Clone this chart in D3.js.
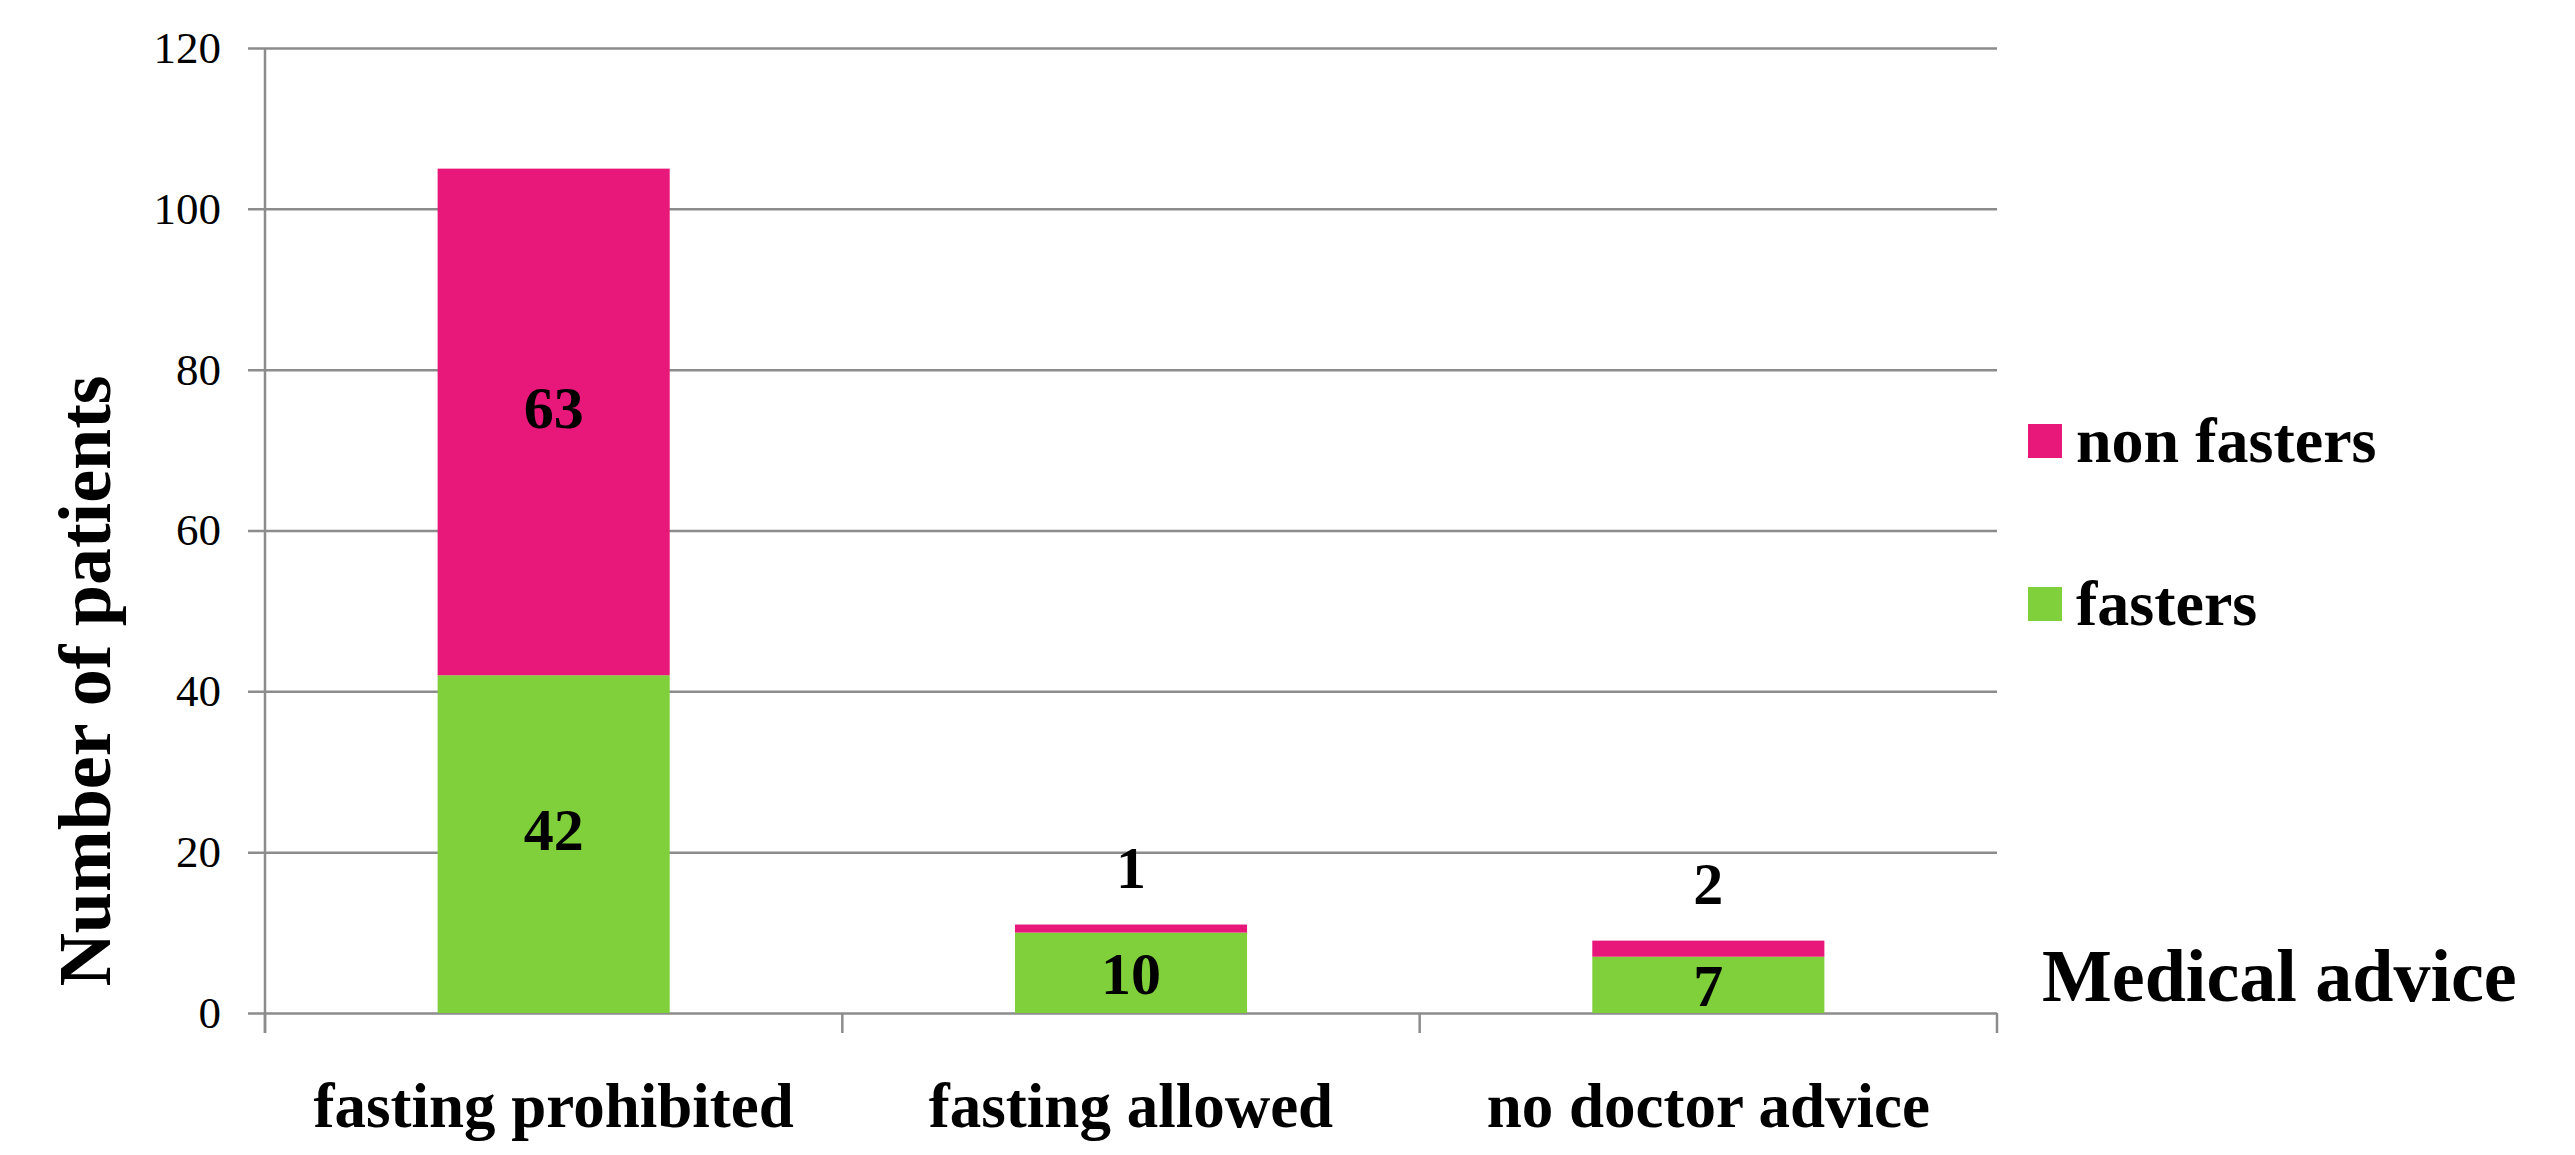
<!DOCTYPE html>
<html>
<head>
<meta charset="utf-8">
<script src="https://cdnjs.cloudflare.com/ajax/libs/d3/7.8.5/d3.min.js"></script>
<style>
    body { margin: 0; background: #fff; }
    text { font-family: 'Liberation Serif', 'Times New Roman', serif; fill: #000; }
    .grid line { stroke: #8c8c8c; stroke-width: 2.5; }
    .y.axis text { font-size: 45px; }
    .x.axis text { font-size: 63px; font-weight: bold; }
</style>
</head>
<body>
<div id="chart"></div>
<script>
var categories = ['fasting prohibited', 'fasting allowed', 'no doctor advice'];
var fasters = [42, 10, 7];
var nonFasters = [63, 1, 2];
var seriesNames = ['fasters', 'non fasters'];
var yTicks = [0, 20, 40, 60, 80, 100, 120];

var width = 2575,
    height = 1155,
    margin = {top: 48, right: 578, bottom: 142, left: 265},
    innerW = width - margin.left - margin.right,
    innerH = height - margin.top - margin.bottom;

var color = d3.scaleOrdinal()
    .domain(seriesNames)
    .range(['#7fd03b', '#e8177a']);

var models = categories.map(function (c, i) {
    return {category: c, fasters: fasters[i], 'non fasters': nonFasters[i]};
});

var stacked = d3.stack().keys(seriesNames)(models);

var svg = d3.select('#chart')
    .append('svg')
    .attr('width', width)
    .attr('height', height)
    .append('g')
    .attr('transform', `translate(${margin.left},${margin.top})`);

var xScale = d3.scaleBand()
    .domain(categories)
    .range([0, innerW])
    .paddingInner(0.598)
    .paddingOuter(0.299);

var yScale = d3.scaleLinear()
    .domain([0, 120])
    .range([innerH, 0]);

// gridlines + y labels
var yAxis = d3.axisLeft(yScale)
    .tickValues(yTicks)
    .tickSize(-innerW)
    .tickPadding(44);

svg.append('g')
    .attr('class', 'y axis grid')
    .call(yAxis)
    .call(g => g.select('.domain').remove())
    .call(g => g.selectAll('.tick line').attr('x1', -17));

// vertical axis line, runs down to the category ticks
svg.append('line')
    .attr('x1', 0).attr('x2', 0)
    .attr('y1', 0).attr('y2', innerH + 20)
    .attr('stroke', '#8c8c8c')
    .attr('stroke-width', 2.5);

// category separator ticks
var step = xScale.step();
svg.append('g')
    .attr('class', 'grid')
    .selectAll('line')
    .data(d3.range(categories.length + 1))
    .enter().append('line')
    .attr('x1', d => d * step)
    .attr('x2', d => d * step)
    .attr('y1', innerH)
    .attr('y2', innerH + 20);

// category labels
svg.append('g')
    .attr('class', 'x axis')
    .selectAll('text')
    .data(categories)
    .enter().append('text')
    .attr('x', d => xScale(d) + xScale.bandwidth() / 2)
    .attr('y', innerH + 114)
    .attr('text-anchor', 'middle')
    .text(d => d);

// stacked bars
var layer = svg.selectAll('.layer')
    .data(stacked)
    .enter().append('g')
    .attr('class', 'layer')
    .style('fill', d => color(d.key));

layer.selectAll('rect')
    .data(d => d)
    .enter().append('rect')
    .attr('x', d => xScale(d.data.category))
    .attr('y', d => yScale(d[1]))
    .attr('width', xScale.bandwidth())
    .attr('height', d => yScale(d[0]) - yScale(d[1]));

// value labels, small segments get pushed above the bar
layer.selectAll('.val')
    .data(d => d.map(p => ({p: p, key: d.key})))
    .enter().append('text')
    .attr('class', 'val')
    .attr('x', d => xScale(d.p.data.category) + xScale.bandwidth() / 2)
    .attr('y', function (d) {
        var h = yScale(d.p[0]) - yScale(d.p[1]);
        if (h < 45) return yScale(d.p[1]) - 58;
        var mid = (yScale(d.p[0]) + yScale(d.p[1])) / 2;
        return h > 200 ? mid - 15 : mid;
    })
    .attr('dy', '0.35em')
    .attr('text-anchor', 'middle')
    .style('font-size', '60px')
    .style('font-weight', 'bold')
    .style('fill', '#000')
    .text(d => d.p.data[d.key]);

// legend
var legend = svg.append('g')
    .attr('transform', `translate(${innerW + 31},0)`);

var legendItems = legend.selectAll('.item')
    .data(seriesNames.slice().reverse())
    .enter().append('g')
    .attr('class', 'item')
    .attr('transform', (d, i) => `translate(0,${376 + i * 163})`);

legendItems.append('rect')
    .attr('width', 34)
    .attr('height', 34)
    .style('fill', d => color(d));

legendItems.append('text')
    .attr('x', 48)
    .attr('y', 38)
    .style('font-size', '64px')
    .style('font-weight', 'bold')
    .text(d => d);

// x title
legend.append('text')
    .attr('x', 14)
    .attr('y', innerH - 12)
    .style('font-size', '74px')
    .style('font-weight', 'bold')
    .text('Medical advice');

// y title
svg.append('text')
    .attr('transform', `translate(${110 - margin.left},${681 - margin.top}) rotate(-90)`)
    .attr('text-anchor', 'middle')
    .style('font-size', '74px')
    .style('font-weight', 'bold')
    .text('Number of patients');
</script>
</body>
</html>
